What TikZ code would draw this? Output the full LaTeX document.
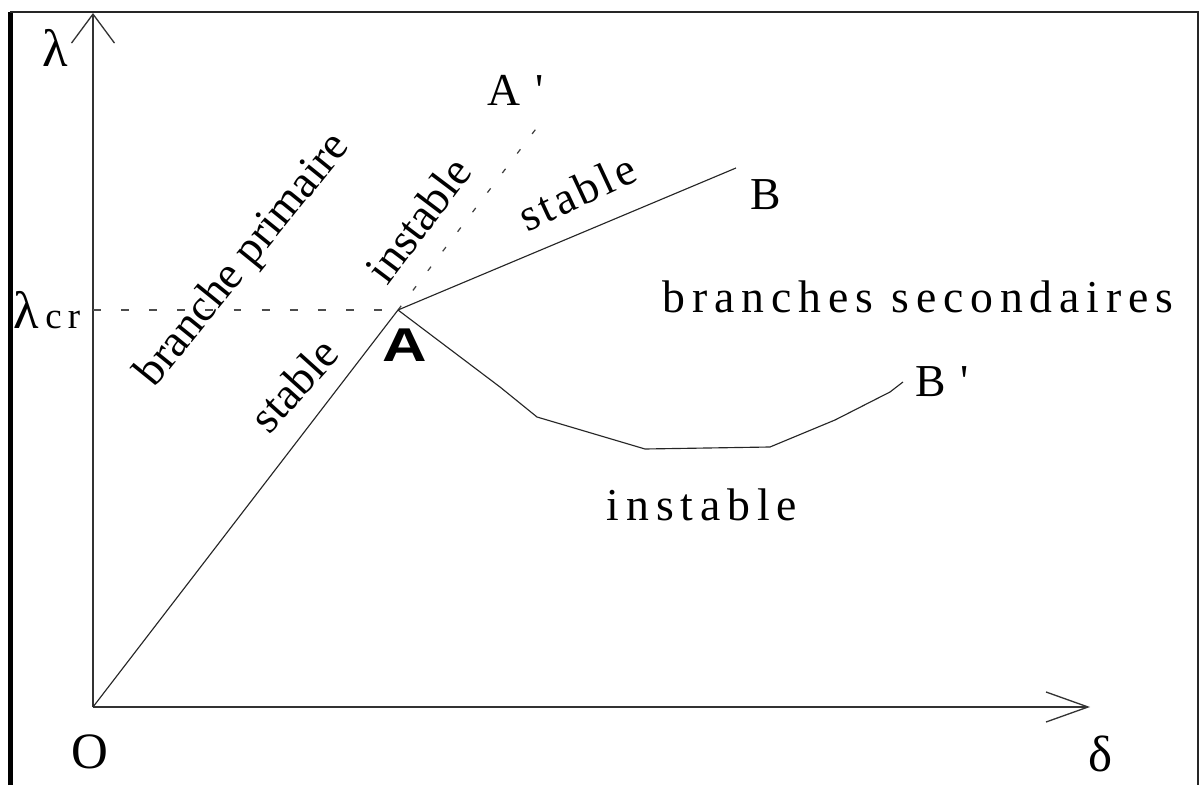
\documentclass[tikz,border=0pt]{standalone}
\usepackage{fontspec}
\setmainfont{Liberation Serif}
\newfontfamily\widefont[LetterSpace=15]{Liberation Serif}
\newfontfamily\halfwidefont[LetterSpace=8]{Liberation Serif}
\newfontfamily\pointfont{Liberation Sans}
\usetikzlibrary{arrows.meta}

\begin{document}
\begin{tikzpicture}[
    x=0.02cm, y=0.02cm,
    every node/.style={inner sep=0pt, font=\fontsize{26}{30}\selectfont},
    axis/.style={draw, line width=0.75pt, black!80},
    branch/.style={draw, line width=0.65pt, black!85},
    critical/.style={draw, line width=0.6pt, black!70, dash pattern=on 4.5pt off 11.5pt},
    extension/.style={draw, line width=0.7pt, black!75, dash pattern=on 3pt off 11pt},
    spaced/.style={font=\fontsize{26}{30}\widefont},
    halfspaced/.style={font=\fontsize{26}{30}\halfwidefont}
]
    \useasboundingbox (0,0) rectangle (1200,785);

    % frame
    \draw[line width=2.8pt] (10.5,0) -- (10.5,773);
    \draw[line width=1.1pt, black!85] (10,773) -- (1198,773) -- (1198,0);

    % points
    \coordinate (pO)    at (93,78);
    \coordinate (ytip)  at (93,772);
    \coordinate (xtip)  at (1090,78);
    \coordinate (lcr)   at (93,475);
    \coordinate (pA)    at (398,475);
    \coordinate (pB)    at (736,617);
    \coordinate (pAp)   at (545,668);
    \coordinate (pBp)   at (903,403);

    % axes
    \draw[axis, -{Straight Barb[length=0.58cm, width=0.86cm]}] (pO) -- (ytip);
    \draw[axis, -{Straight Barb[length=0.84cm, width=0.6cm]}]  (pO) -- (xtip);

    % branches
    \draw[critical]  (lcr) -- (pA);
    \draw[extension] (pA) -- (pAp);
    \draw[branch]    (pO) -- (pA);
    \draw[branch]    (pA) -- (pB);
    \draw[branch]    (pA) -- (500,398) -- (537,368) -- (645,336) -- (770,338)
                          -- (835,365) -- (890,393) -- (pBp);

    % labels
    \node (lambda)   at (55,737) {\fontsize{30}{34}\selectfont λ};
    \node (lambdacr) at (47,475) {\fontsize{30}{34}\selectfont λ{\fontsize{21}{24}\selectfont\,c\,r}};
    \node (origin)   at (90,33)  {\fontsize{29}{33}\selectfont O};
    \node (delta)    at (1100,31) {\fontsize{29}{33}\selectfont δ};
    \node (labA)     at (405,440) [xscale=1.3] {\pointfont\bfseries\fontsize{27}{31}\selectfont A};
    \node (labAp)    at (516,695) {A\,\,\textquotesingle};
    \node (labB)     at (766,590) {B};
    \node (labBp)    at (942,403) {B\,\,\textquotesingle};

    \node (primary)   at (244,524) [rotate=51] {branche primaire};
    \node (stablelow) at (294,400) [rotate=48] {stable};
    \node (instup)    at (418,565) [rotate=53] {instable};
    \node (stableup)  at (577,593) [rotate=25, halfspaced] {stable};
    \node (secondary) at (918,488) [spaced] {branches secondaires};
    \node (instlow)   at (702,280) [spaced] {instable};
\end{tikzpicture}
\end{document}
